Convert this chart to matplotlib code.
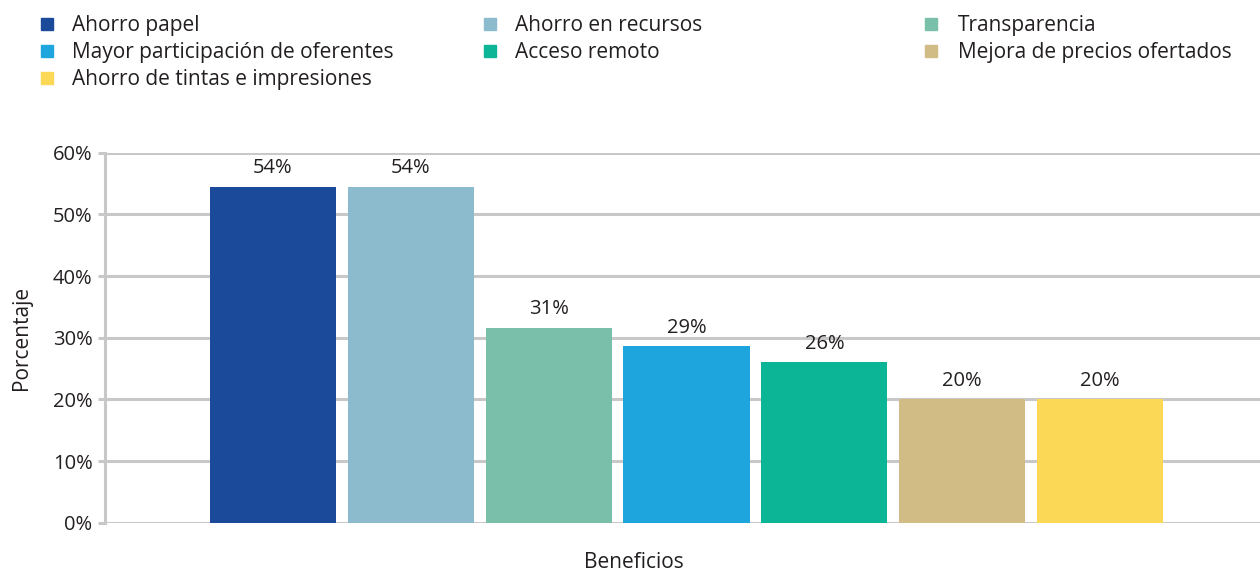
import matplotlib
matplotlib.use("Agg")
import matplotlib.pyplot as plt
from matplotlib.lines import Line2D

categories = ["Ahorro papel", "Ahorro en recursos", "Transparencia",
              "Mayor participación de oferentes", "Acceso remoto",
              "Mejora de precios ofertados", "Ahorro de tintas e impresiones"]
values = [54.5, 54.5, 31.6, 28.6, 26.0, 20.0, 20.0]
labels = ["54%", "54%", "31%", "29%", "26%", "20%", "20%"]
colors = ["#1B4A9A", "#8BBBCD", "#79BFA9", "#1FA5DD", "#0BB596", "#D1BC85", "#FBD957"]
yticks = [0, 10, 20, 30, 40, 50, 60]
ytick_labels = ["0%", "10%", "20%", "30%", "40%", "50%", "60%"]

plt.rcParams['font.family'] = ['Open Sans', 'DejaVu Sans']
txt = "#231F20"
grid_c = "#C8C8C8"
W, H = 1260, 571

fig = plt.figure(figsize=(12.6, 5.71), dpi=100)
ax = fig.add_axes([105/W, 48.3/H, 1 - 105/W, 370/H])

x = list(range(len(values)))
ax.bar(x, values, width=0.915, color=colors, zorder=3)
for xi, v, lab in zip(x, values, labels):
    ax.annotate(lab, (xi, v), xytext=(0, 6), textcoords="offset points",
                ha="center", va="bottom", fontsize=14.5, color=txt)

ax.set_xlim(-1.219, 7.161)
ax.set_ylim(0, 60)
ax.set_yticks(yticks)
ax.set_yticklabels(ytick_labels, fontsize=14.5, color=txt)
ax.set_xticks([])
ax.yaxis.grid(True, color=grid_c, linewidth=2.2, zorder=0)
ax.set_axisbelow(True)
for s in ["top", "right", "bottom"]:
    ax.spines[s].set_visible(False)
ax.spines["left"].set_color(grid_c)
ax.spines["left"].set_linewidth(2.2)
ax.tick_params(axis="y", length=5, width=2.2, color=grid_c, pad=4)

ax.set_ylabel("Porcentaje", fontsize=15, color=txt)
ax.yaxis.set_label_coords((32 - 105) / 1155, 0.5)
ax.set_xlabel("Beneficios", fontsize=15, color=txt)
ax.xaxis.set_label_coords((634 - 105) / 1155, -0.078)

# legend, laid out row by row in three columns
col_marker_x = [47, 490, 931]
col_text_x = [72, 515, 958]
row_base_y = [31, 58, 85]
for i, (cat, c) in enumerate(zip(categories, colors)):
    r, k = divmod(i, 3)
    my = row_base_y[r] - 7
    fig.add_artist(Line2D([col_marker_x[k] / W], [1 - my / H], marker="s",
                          markersize=8, markerfacecolor=c, markeredgecolor=c,
                          linestyle="none", transform=fig.transFigure))
    fig.text(col_text_x[k] / W, 1 - row_base_y[r] / H, cat, fontsize=15,
             color=txt, ha="left", va="baseline")

fig.savefig("out.png", dpi=100)
